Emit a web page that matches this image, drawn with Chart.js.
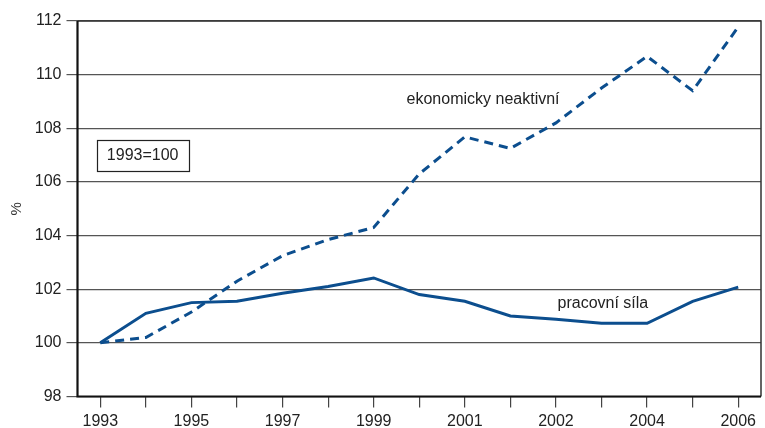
<!DOCTYPE html>
<html>
<head>
<meta charset="utf-8">
<script src="https://cdn.jsdelivr.net/npm/chart.js@4/dist/chart.umd.min.js"></script>
<style>
  html, body { margin: 0; padding: 0; background: #fff; }
  #wrap { width: 765px; height: 428px; position: relative; }
</style>
</head>
<body>
<div id="wrap"><canvas id="c" width="765" height="428"></canvas></div>
<script>
// Category tick labels (15 periods, every second one labelled)
const categories = ['1993','','1995','','1997','','1999','','2001','','2002','','2004','','2006'];
// Series values (index, 1993 = 100)
const pracovniSila = [100, 101.1, 101.5, 101.55, 101.85, 102.1, 102.42, 101.8, 101.55, 101.0, 100.88, 100.73, 100.73, 101.55, 102.08];
const ekonomickyNeaktivni = [100, 100.2, 101.15, 102.3, 103.25, 103.85, 104.3, 106.3, 107.68, 107.25, 108.2, 109.5, 110.68, 109.4, 111.78];
// Y axis tick values
const yMin = 98, yMax = 112, yStep = 2;

const LINE = '#0c4e8e';
const FONT = "'Liberation Sans', Arial, Helvetica, sans-serif";

const framePlugin = {
  id: 'frame',
  afterDatasetsDraw(chart) {
    const { ctx, chartArea: a } = chart;
    ctx.save();
    // top and right border
    ctx.strokeStyle = '#333';
    ctx.lineWidth = 1.5;
    ctx.beginPath();
    ctx.moveTo(a.left, a.top);
    ctx.lineTo(a.right, a.top);
    ctx.lineTo(a.right, a.bottom);
    ctx.stroke();
    // left and bottom axes
    ctx.strokeStyle = '#111';
    ctx.lineWidth = 2.2;
    ctx.beginPath();
    ctx.moveTo(a.left, a.top);
    ctx.lineTo(a.left, a.bottom);
    ctx.lineTo(a.right, a.bottom);
    ctx.stroke();

    const xs = chart.scales.x, ys = chart.scales.y;
    ctx.fillStyle = '#222';
    ctx.font = '16px ' + FONT;
    ctx.textAlign = 'center';
    ctx.textBaseline = 'middle';
    ctx.fillText('ekonomicky neaktivní', xs.getPixelForValue(8.4), ys.getPixelForValue(109.06));
    ctx.fillText('pracovní síla', xs.getPixelForValue(11.03), ys.getPixelForValue(101.45));

    // "1993=100" box
    const bx = xs.getPixelForValue(0.93), by = ys.getPixelForValue(107.0);
    ctx.font = '16px ' + FONT;
    ctx.fillText('1993=100', bx, by);
    ctx.strokeStyle = '#222';
    ctx.lineWidth = 1.2;
    ctx.strokeRect(Math.round(bx - 46) + 0.5, Math.round(by - 15.5) + 0.5, 92, 31);
    ctx.restore();
  }
};

new Chart(document.getElementById('c'), {
  type: 'line',
  data: {
    labels: categories,
    datasets: [
      {
        label: 'pracovní síla',
        data: pracovniSila,
        borderColor: LINE,
        borderWidth: 3,
        pointRadius: 0,
        tension: 0,
        fill: false
      },
      {
        label: 'ekonomicky neaktivní',
        data: ekonomickyNeaktivni,
        borderColor: LINE,
        borderWidth: 3,
        borderDash: [9, 6],
        pointRadius: 0,
        tension: 0,
        fill: false
      }
    ]
  },
  options: {
    responsive: false,
    animation: false,
    devicePixelRatio: 1,
    layout: { padding: { top: 21, right: 4, left: 0, bottom: 0 } },
    plugins: { legend: { display: false }, tooltip: { enabled: false } },
    scales: {
      x: {
        type: 'category',
        offset: true,
        grid: {
          display: true,
          drawOnChartArea: false,
          drawTicks: true,
          tickLength: 11,
          color: '#444',
          lineWidth: 1.2,
          offset: false
        },
        border: { display: false },
        ticks: {
          autoSkip: false,
          maxRotation: 0,
          color: '#222',
          padding: 4,
          font: { family: FONT, size: 16 }
        },
        afterFit(scale) { scale.height = 31.5; }
      },
      y: {
        min: yMin,
        max: yMax,
        ticks: {
          stepSize: yStep,
          color: '#222',
          padding: 5,
          font: { family: FONT, size: 16 }
        },
        grid: {
          color: '#555',
          lineWidth: 1.2,
          drawTicks: true,
          tickLength: 11
        },
        border: { display: false },
        title: {
          display: true,
          text: '%',
          color: '#333',
          font: { family: FONT, size: 15 },
          padding: { top: 8, bottom: 0 }
        },
        afterFit(scale) { scale.width = 77.5; }
      }
    }
  },
  plugins: [framePlugin]
});
</script>
</body>
</html>
